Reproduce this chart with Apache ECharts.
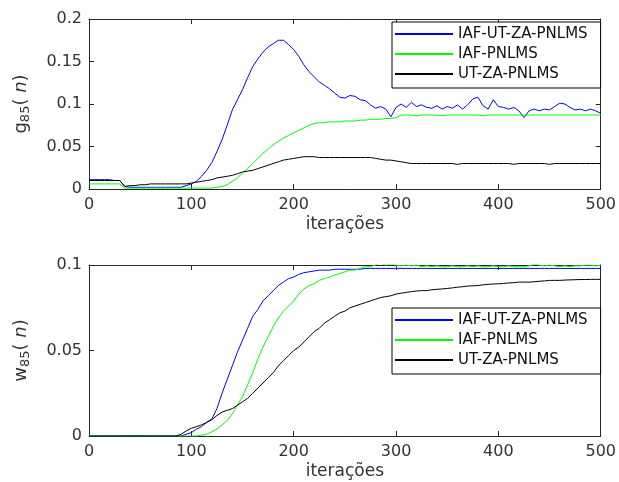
<!DOCTYPE html>
<html>
<head>
<meta charset="utf-8">
<script src="https://cdn.jsdelivr.net/npm/echarts@6/dist/echarts.min.js"></script>
<style>
html,body{margin:0;padding:0;background:#fff;}
#main{width:619px;height:482px;}
</style>
</head>
<body>
<div id="main"></div>
<script>
// iteracoes, passo 5
var iters = [];
for (var k = 0; k <= 500; k += 5) iters.push(k);

var names = ['IAF-UT-ZA-PNLMS', 'IAF-PNLMS', 'UT-ZA-PNLMS'];

// g85(n)
var gBlue = [
 0.011,0.011,0.011,0.011,0.011,0.010,0.010,0.003,0.002,0.002,
 0.002,0.002,0.002,0.002,0.002,0.002,0.002,0.002,0.002,0.004,
 0.006,0.009,0.015,0.022,0.031,0.044,0.058,0.075,0.093,0.105,
 0.117,0.131,0.144,0.153,0.161,0.167,0.171,0.175,0.175,0.170,
 0.164,0.156,0.146,0.138,0.132,0.126,0.122,0.118,0.113,0.108,
 0.107,0.110,0.109,0.105,0.104,0.099,0.095,0.097,0.094,0.085,
 0.096,0.100,0.096,0.102,0.097,0.099,0.096,0.095,0.098,0.094,
 0.097,0.095,0.099,0.094,0.099,0.106,0.108,0.098,0.094,0.105,
 0.097,0.096,0.094,0.096,0.092,0.084,0.092,0.094,0.092,0.094,
 0.093,0.097,0.101,0.100,0.096,0.093,0.094,0.092,0.094,0.092,
 0.089
];
var gGreen = [
 0.006,0.006,0.006,0.006,0.006,0.006,0.006,0.001,0.001,0.001,
 0.001,0.001,0.001,0.001,0.001,0.001,0.001,0.001,0.001,0.001,
 0.001,0.001,0.001,0.001,0.001,0.002,0.003,0.005,0.009,0.013,
 0.019,0.024,0.030,0.036,0.042,0.047,0.052,0.056,0.060,0.063,
 0.066,0.069,0.072,0.075,0.077,0.078,0.078,0.079,0.079,0.079,
 0.080,0.080,0.080,0.081,0.081,0.082,0.082,0.082,0.083,0.083,
 0.084,0.087,0.087,0.087,0.086,0.087,0.087,0.087,0.087,0.086,
 0.087,0.087,0.087,0.087,0.087,0.087,0.087,0.086,0.087,0.087,
 0.087,0.087,0.087,0.087,0.087,0.087,0.087,0.087,0.087,0.087,
 0.087,0.087,0.087,0.087,0.087,0.087,0.087,0.087,0.087,0.087,
 0.087
];
var gBlack = [
 0.010,0.010,0.010,0.010,0.010,0.010,0.010,0.003,0.004,0.004,
 0.005,0.005,0.006,0.006,0.006,0.006,0.006,0.006,0.006,0.006,
 0.007,0.008,0.009,0.010,0.011,0.013,0.014,0.015,0.016,0.018,
 0.020,0.021,0.022,0.024,0.026,0.028,0.030,0.032,0.034,0.035,
 0.036,0.037,0.038,0.038,0.038,0.037,0.037,0.037,0.037,0.037,
 0.037,0.037,0.037,0.037,0.037,0.037,0.036,0.035,0.034,0.034,
 0.033,0.032,0.031,0.030,0.030,0.030,0.030,0.030,0.030,0.030,
 0.030,0.030,0.029,0.030,0.030,0.030,0.030,0.030,0.030,0.030,
 0.030,0.030,0.030,0.029,0.030,0.030,0.030,0.030,0.030,0.030,
 0.029,0.030,0.030,0.030,0.030,0.030,0.030,0.030,0.030,0.030,
 0.030
];

// w85(n)
var wBlue = [
 0,0,0,0,0,0,0,0,0,0,
 0,0,0,0,0,0,0,0,0,0.001,
 0.002,0.004,0.0055,0.008,0.010,0.016,0.025,0.033,0.041,0.049,
 0.056,0.063,0.070,0.074,0.079,0.082,0.085,0.088,0.090,0.092,
 0.093,0.0945,0.0955,0.096,0.0965,0.097,0.097,0.097,0.0975,0.0975,
 0.0975,0.0975,0.0975,0.0975,0.098,0.098,0.098,0.098,0.098,0.098,
 0.098,0.098,0.098,0.098,0.098,0.098,0.098,0.098,0.098,0.098,
 0.098,0.098,0.098,0.098,0.098,0.098,0.098,0.098,0.098,0.098,
 0.098,0.098,0.098,0.098,0.098,0.098,0.098,0.098,0.098,0.098,
 0.098,0.098,0.098,0.098,0.098,0.098,0.098,0.098,0.098,0.098,
 0.098
];
var wGreen = [
 0,0,0,0,0,0,0,0,0,0,
 0,0,0,0,0,0,0,0,0,0,
 0,0,0.0005,0.001,0.0025,0.004,0.0065,0.009,0.013,0.018,
 0.023,0.030,0.037,0.045,0.052,0.058,0.064,0.069,0.073,0.076,
 0.079,0.083,0.086,0.088,0.089,0.091,0.092,0.093,0.094,0.095,
 0.096,0.097,0.097,0.098,0.099,0.099,0.100,0.101,0.100,0.1005,
 0.100,0.0995,0.100,0.0995,0.100,0.099,0.0995,0.099,0.0995,0.099,
 0.099,0.0995,0.099,0.099,0.0995,0.099,0.0995,0.099,0.099,0.0995,
 0.099,0.099,0.0995,0.099,0.099,0.099,0.0995,0.1005,0.100,0.0995,
 0.100,0.0995,0.099,0.0995,0.099,0.0995,0.0995,0.100,0.100,0.0995,
 0.100
];
var wBlack = [
 0,0,0,0,0,0,0,0,0,0,
 0,0,0,0,0,0,0,0,0.001,0.003,
 0.0045,0.0055,0.0065,0.008,0.0095,0.012,0.014,0.015,0.016,0.018,
 0.020,0.022,0.025,0.028,0.031,0.034,0.037,0.041,0.044,0.047,
 0.050,0.052,0.055,0.058,0.061,0.063,0.066,0.068,0.070,0.072,
 0.073,0.075,0.076,0.077,0.078,0.079,0.080,0.081,0.0815,0.082,
 0.083,0.0835,0.084,0.0844,0.0848,0.085,0.085,0.0855,0.0858,0.086,
 0.0863,0.0866,0.087,0.0873,0.0877,0.0878,0.088,0.0884,0.0887,0.0889,
 0.089,0.0892,0.0895,0.0897,0.090,0.090,0.090,0.0902,0.0905,0.0907,
 0.091,0.091,0.091,0.0912,0.0913,0.0914,0.0915,0.0915,0.0916,0.0916,
 0.0916
];

function pares(ys) {
    var out = [];
    for (var i = 0; i < iters.length; i++) out.push([iters[i], ys[i]]);
    return out;
}

var corEixo = '#262626';
var corTexto = '#333';
var fonte = 'DejaVu Sans';

function eixoX(grid, visivel) {
    return {
        type: 'value', gridIndex: grid, min: 0, max: 500, interval: 100,
        position: visivel ? 'bottom' : 'top',
        name: visivel ? 'iterações' : '', nameLocation: 'middle', nameGap: 27,
        nameTextStyle: {color: corTexto, fontSize: 17, fontFamily: fonte},
        axisLine: {show: true, onZero: false, lineStyle: {color: corEixo, width: 1}},
        axisTick: {show: true, inside: true, length: 5, lineStyle: {color: corEixo}},
        axisLabel: {show: visivel, color: corTexto, fontSize: 16, fontFamily: fonte, margin: 8},
        splitLine: {show: false}
    };
}
function eixoY(grid, max, nome, visivel) {
    return {
        type: 'value', gridIndex: grid, min: 0, max: max, interval: 0.05,
        position: visivel ? 'left' : 'right',
        name: visivel ? nome : '', nameLocation: 'middle', nameGap: 57, nameRotate: 90,
        nameTextStyle: {
            color: corTexto, fontSize: 17, fontFamily: fonte,
            rich: {
                t: {fontSize: 18, fontFamily: fonte, color: corTexto},
                s: {fontSize: 13, fontFamily: fonte, color: corTexto, padding: [9, 0, 0, 0]},
                i: {fontSize: 18, fontFamily: fonte, color: corTexto, fontStyle: 'italic'}
            }
        },
        axisLine: {show: true, onZero: false, lineStyle: {color: corEixo, width: 1}},
        axisTick: {show: true, inside: true, length: 5, lineStyle: {color: corEixo}},
        axisLabel: {show: visivel, color: corTexto, fontSize: 16, fontFamily: fonte, margin: 7},
        splitLine: {show: false}
    };
}

function serie(nome, cor, x, y, dados) {
    return {
        name: nome, type: 'line', xAxisIndex: x, yAxisIndex: y,
        data: pares(dados), symbol: 'none', animation: false,
        lineStyle: {color: cor, width: 1}, itemStyle: {color: cor}
    };
}

function legenda(top) {
    return {
        data: names, orient: 'vertical', left: 392, top: top,
        backgroundColor: '#fff', borderColor: '#000', borderWidth: 1,
        padding: [3, 13, 5, 3], itemWidth: 58, itemHeight: 2, itemGap: 2,
        icon: 'rect',
        textStyle: {color: '#111', fontSize: 15, fontFamily: fonte, lineHeight: 18}
    };
}

var myChart = echarts.init(document.getElementById('main'));
var option = {
    backgroundColor: '#fff',
    animation: false,
    grid: [
        {left: 89, top: 19, width: 514, height: 170},
        {left: 89, top: 265, width: 514, height: 171}
    ],
    xAxis: [eixoX(0, true), eixoX(0, false), eixoX(1, true), eixoX(1, false)],
    yAxis: [
        eixoY(0, 0.2, '{t|g}{s|85}{t|( }{i|n}{t|)}', true),
        eixoY(0, 0.2, '', false),
        eixoY(1, 0.1, '{t|w}{s|85}{t|( }{i|n}{t|)}', true),
        eixoY(1, 0.1, '', false)
    ],
    legend: [legenda(22), legenda(308)],
    series: [
        serie(names[0], '#0000ff', 0, 0, gBlue),
        serie(names[1], '#00ff00', 0, 0, gGreen),
        serie(names[2], '#000000', 0, 0, gBlack),
        serie(names[0], '#0000ff', 2, 2, wBlue),
        serie(names[1], '#00ff00', 2, 2, wGreen),
        serie(names[2], '#000000', 2, 2, wBlack)
    ]
};
myChart.setOption(option);
</script>
</body>
</html>
